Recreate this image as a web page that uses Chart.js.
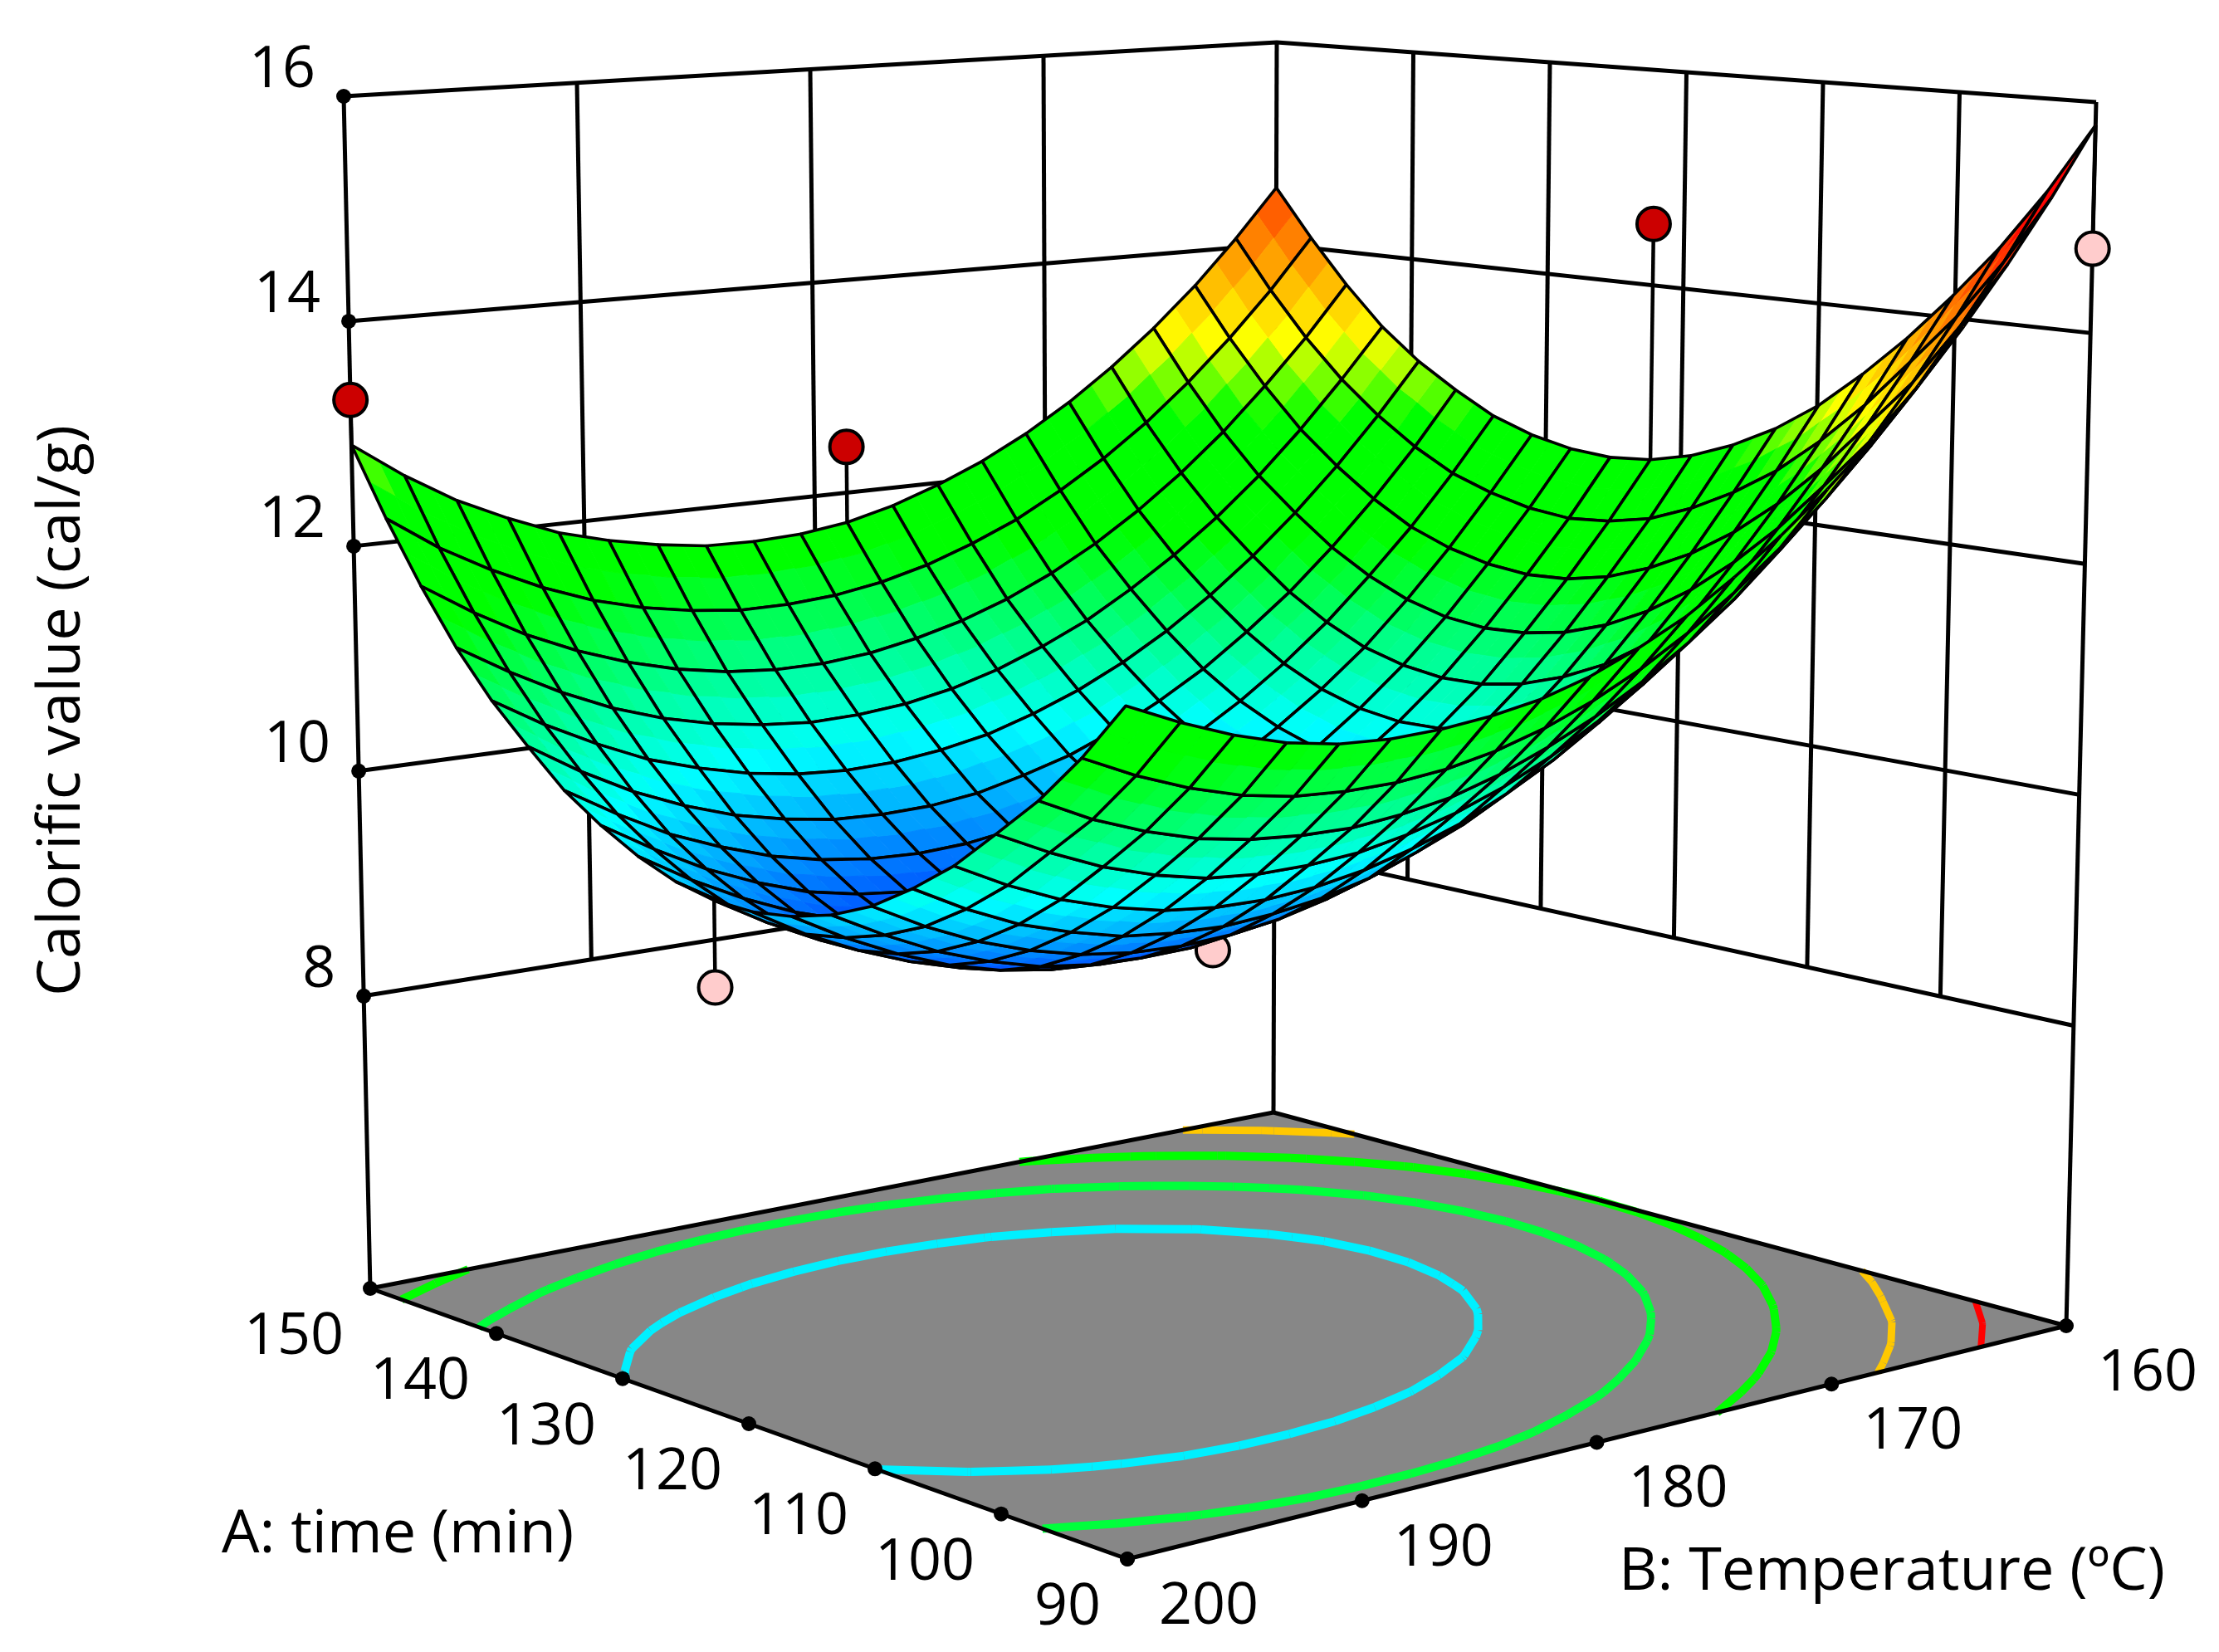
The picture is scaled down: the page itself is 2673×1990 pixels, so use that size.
<!DOCTYPE html>
<html>
<head>
<meta charset="utf-8">
<title>Calorific value surface</title>
<script src="https://cdn.jsdelivr.net/npm/chart.js@4"></script>
<style>
  html, body { margin: 0; padding: 0; background: #fff; }
  canvas { display: block; }
</style>
</head>
<body>
<canvas id="surfaceChart" width="2673" height="1990"></canvas>
<script>
const timeTicks = [150, 140, 130, 120, 110, 100, 90];
const tempTicks = [200, 190, 180, 170, 160];
const valueTicks = [16, 14, 12, 10, 8];
const floorValue = 5.4;
const topValue = 16;

// mesh nodes, calorific value per time (row) and temperature (column)
const meshTime = [90, 93, 96, 99, 102, 105, 108, 111, 114, 117, 120, 123, 126, 129, 132, 135, 138, 141, 144, 147, 150];
const meshTemp = [160, 162, 164, 166, 168, 170, 172, 174, 176, 178, 180, 182, 184, 186, 188, 190, 192, 194, 196, 198, 200];
const calorific = [
  [15.80, 15.22, 14.69, 14.20, 13.75, 13.35, 12.98, 12.65, 12.36, 12.10, 11.90, 11.73, 11.61, 11.54, 11.50, 11.49, 11.52, 11.60, 11.73, 11.90, 12.10],
  [15.19, 14.62, 14.11, 13.62, 13.19, 12.79, 12.43, 12.11, 11.83, 11.59, 11.39, 11.23, 11.11, 11.03, 10.99, 10.99, 11.02, 11.10, 11.23, 11.40, 11.61],
  [14.66, 14.10, 13.58, 13.11, 12.68, 12.29, 11.93, 11.62, 11.35, 11.12, 10.93, 10.77, 10.65, 10.58, 10.54, 10.55, 10.59, 10.67, 10.80, 10.97, 11.19],
  [14.20, 13.66, 13.15, 12.67, 12.23, 11.85, 11.51, 11.20, 10.94, 10.71, 10.52, 10.37, 10.26, 10.18, 10.15, 10.15, 10.19, 10.29, 10.43, 10.62, 10.84],
  [13.78, 13.23, 12.72, 12.25, 11.82, 11.44, 11.10, 10.80, 10.54, 10.32, 10.13, 9.99, 9.88, 9.81, 9.78, 9.79, 9.84, 9.94, 10.08, 10.27, 10.50],
  [13.41, 12.86, 12.35, 11.89, 11.46, 11.09, 10.75, 10.46, 10.20, 9.98, 9.81, 9.66, 9.56, 9.50, 9.47, 9.49, 9.54, 9.65, 9.79, 9.99, 10.23],
  [13.08, 12.54, 12.04, 11.58, 11.16, 10.79, 10.46, 10.17, 9.92, 9.71, 9.53, 9.40, 9.30, 9.24, 9.22, 9.24, 9.30, 9.41, 9.56, 9.76, 10.00],
  [12.82, 12.29, 11.79, 11.33, 10.91, 10.55, 10.23, 9.94, 9.70, 9.49, 9.32, 9.19, 9.10, 9.04, 9.03, 9.05, 9.11, 9.23, 9.39, 9.60, 9.84],
  [12.62, 12.09, 11.60, 11.14, 10.73, 10.37, 10.05, 9.77, 9.53, 9.33, 9.17, 9.04, 8.95, 8.90, 8.89, 8.92, 8.99, 9.11, 9.28, 9.49, 9.74],
  [12.47, 11.94, 11.46, 11.01, 10.60, 10.25, 9.94, 9.66, 9.43, 9.23, 9.07, 8.95, 8.87, 8.82, 8.82, 8.85, 8.92, 9.05, 9.22, 9.43, 9.69],
  [12.38, 11.86, 11.38, 10.94, 10.53, 10.19, 9.88, 9.61, 9.38, 9.18, 9.03, 8.91, 8.84, 8.80, 8.80, 8.84, 8.91, 9.05, 9.22, 9.44, 9.70],
  [12.35, 11.83, 11.36, 10.92, 10.52, 10.18, 9.88, 9.61, 9.39, 9.20, 9.05, 8.94, 8.87, 8.83, 8.84, 8.88, 8.96, 9.10, 9.28, 9.50, 9.77],
  [12.38, 11.87, 11.40, 10.96, 10.57, 10.23, 9.93, 9.67, 9.45, 9.27, 9.13, 9.02, 8.95, 8.92, 8.93, 8.98, 9.07, 9.21, 9.40, 9.63, 9.90],
  [12.46, 11.96, 11.49, 11.06, 10.67, 10.34, 10.05, 9.79, 9.58, 9.40, 9.26, 9.16, 9.10, 9.07, 9.09, 9.14, 9.23, 9.38, 9.57, 9.81, 10.08],
  [12.59, 12.09, 11.63, 11.22, 10.84, 10.51, 10.22, 9.97, 9.76, 9.59, 9.45, 9.36, 9.30, 9.28, 9.30, 9.36, 9.46, 9.61, 9.79, 10.03, 10.30],
  [12.79, 12.29, 11.84, 11.43, 11.06, 10.74, 10.45, 10.21, 10.00, 9.83, 9.71, 9.61, 9.56, 9.55, 9.57, 9.64, 9.74, 9.89, 10.08, 10.32, 10.60],
  [13.02, 12.54, 12.10, 11.70, 11.34, 11.02, 10.74, 10.50, 10.30, 10.14, 10.01, 9.93, 9.88, 9.87, 9.90, 9.97, 10.08, 10.22, 10.42, 10.65, 10.92],
  [13.31, 12.84, 12.40, 12.00, 11.65, 11.34, 11.07, 10.83, 10.64, 10.48, 10.36, 10.28, 10.24, 10.23, 10.27, 10.34, 10.45, 10.60, 10.80, 11.04, 11.31],
  [13.68, 13.20, 12.77, 12.37, 12.02, 11.71, 11.44, 11.21, 11.02, 10.87, 10.76, 10.68, 10.64, 10.64, 10.68, 10.76, 10.88, 11.04, 11.24, 11.49, 11.78],
  [14.10, 13.62, 13.19, 12.80, 12.45, 12.15, 11.89, 11.66, 11.48, 11.33, 11.22, 11.15, 11.12, 11.12, 11.17, 11.25, 11.37, 11.54, 11.75, 12.00, 12.31],
  [14.56, 14.09, 13.66, 13.28, 12.94, 12.64, 12.38, 12.16, 11.98, 11.83, 11.72, 11.66, 11.64, 11.65, 11.71, 11.80, 11.92, 12.10, 12.31, 12.58, 12.90]
];

// measured runs, above the surface (red) and below it (pink)
const aboveTime = [150, 150, 120];
const aboveTemp = [200, 180, 160];
const aboveValue = [13.3, 12.43, 14.57];
const aboveFit = [12.9, 11.72, 12.38];
const belowTime = [90, 120, 120];
const belowTemp = [160, 200, 180];
const belowValue = [14.73, 8.97, 8.54];
const belowFit = [15.8, 9.7, 9.03];

const contourLevels = [10, 11.2, 12.33, 13.55, 14.65];
const contourColors = ["#00f0ff", "#00ff3c", "#00ff00", "#ffc800", "#ff0000"];
const contourWidths = [10, 10, 10, 9, 8];

const scaleValues = [8.55, 10.05, 11.5, 12.5, 13.2, 15];
const scaleColors = [[0, 0, 255], [0, 255, 255], [0, 255, 0], [0, 255, 0], [255, 255, 0], [255, 0, 0]];

// where the box corners sit in the picture: floor then top
const boxFloor = { left: [446, 1552], back: [1534, 1340], right: [2489, 1597], front: [1358, 1878] };
const boxTop = { left: [414, 116], back: [1538, 51], right: [2525, 123], front: [1355, 252] };

function boxPoint(u, v, w) {
  const at = (k) => {
    const f = u * v * boxFloor.left[k] + u * (1 - v) * boxFloor.back[k] + (1 - u) * (1 - v) * boxFloor.right[k] + (1 - u) * v * boxFloor.front[k];
    const g = u * v * boxTop.left[k] + u * (1 - v) * boxTop.back[k] + (1 - u) * (1 - v) * boxTop.right[k] + (1 - u) * v * boxTop.front[k];
    return f + w * (g - f);
  };
  return { x: at(0), y: at(1) };
}

const heightShare = (z) => (z - floorValue) / (topValue - floorValue);

// axis ticks and walls are evenly spaced in the picture
function project(t, b, z) {
  return boxPoint((t - 90) / 60, (b - 160) / 40, heightShare(z));
}

// the surface, the runs and the contours foreshorten towards the back corner
function projectDeep(t, b, z) {
  const p = (150 - t) / 60;
  const q = (b - 160) / 40;
  return boxPoint(1 - (0.85 * p + 0.15 * p * p), 0.86 * q + 0.14 * q * q, heightShare(z));
}

function valueColor(z) {
  let i = 0;
  if (z <= scaleValues[0]) return "rgb(" + scaleColors[0].join(",") + ")";
  while (i < scaleValues.length - 2 && z > scaleValues[i + 1]) i++;
  const f = Math.min(1, (z - scaleValues[i]) / (scaleValues[i + 1] - scaleValues[i]));
  const c = scaleColors[i].map((v, k) => Math.round(v + f * (scaleColors[i + 1][k] - v)));
  return "rgb(" + c.join(",") + ")";
}

const datasets = [];

function addLine(points, color, width, extra) {
  datasets.push(Object.assign({
    data: points,
    showLine: true,
    borderColor: color,
    borderWidth: width,
    pointRadius: 0,
    borderJoinStyle: "round",
    clip: false,
  }, extra));
}

function addDots(points, radius, fill, borderWidth) {
  datasets.push({
    data: points,
    showLine: false,
    pointRadius: radius,
    pointBackgroundColor: fill,
    pointBorderColor: "#000",
    pointBorderWidth: borderWidth,
    clip: false,
  });
}

// walls
valueTicks.forEach((z) => {
  addLine([project(150, 200, z), project(150, 160, z), project(90, 160, z)], "#000", 5);
});
[190, 180, 170].forEach((b) => addLine([project(150, b, 8), project(150, b, 16)], "#000", 5));
[140, 130, 120, 110, 100].forEach((t) => addLine([project(t, 160, 8), project(t, 160, 16)], "#000", 5));
addLine([project(150, 160, floorValue), project(150, 160, 16)], "#000", 5);
addLine([project(90, 160, floorValue), project(90, 160, 16)], "#000", 5);
addLine([project(150, 200, floorValue), project(150, 200, 16)], "#000", 5);

// floor and the contours lying on it
const floorCorners = [[150, 200], [150, 160], [90, 160], [90, 200], [150, 200]].map((c) => project(c[0], c[1], floorValue));
addLine(floorCorners, "rgba(0,0,0,0)", 0, { solidFill: "#878787" });

// marching squares over the mesh, chained into ordered runs
function contourRuns(level) {
  const pieces = [];
  const cross = (i1, j1, i2, j2) => {
    const z1 = calorific[i1][j1];
    const z2 = calorific[i2][j2];
    if ((z1 < level) === (z2 < level)) return null;
    const f = (level - z1) / (z2 - z1);
    return {
      key: i1 + "," + j1 + "," + i2 + "," + j2,
      p: projectDeep(meshTime[i1] + f * (meshTime[i2] - meshTime[i1]), meshTemp[j1] + f * (meshTemp[j2] - meshTemp[j1]), floorValue),
    };
  };
  for (let i = 0; i < meshTime.length - 1; i++) {
    for (let j = 0; j < meshTemp.length - 1; j++) {
      const hits = [cross(i, j, i + 1, j), cross(i + 1, j + 1, i + 1, j), cross(i + 1, j + 1, i, j + 1), cross(i, j, i, j + 1)].filter(Boolean);
      if (hits.length === 2) pieces.push(hits);
    }
  }
  const touchCount = (key) => pieces.filter((o) => o[0].key === key || o[1].key === key).length;
  const runs = [];
  const used = new Set();
  const endsFirst = pieces.slice().sort((a, b) => {
    const free = (h) => (touchCount(h[0].key) === 1 || touchCount(h[1].key) === 1 ? 0 : 1);
    return free(a) - free(b);
  });
  endsFirst.forEach((start) => {
    const n0 = pieces.indexOf(start);
    if (used.has(n0)) return;
    used.add(n0);
    const [first, second] = touchCount(start[0].key) === 1 ? start : [start[1], start[0]];
    const run = [first.p, second.p];
    let key = second.key;
    for (;;) {
      const n = pieces.findIndex((h, m) => !used.has(m) && (h[0].key === key || h[1].key === key));
      if (n < 0) break;
      used.add(n);
      const out = pieces[n][0].key === key ? pieces[n][1] : pieces[n][0];
      run.push(out.p);
      key = out.key;
    }
    runs.push(run);
  });
  return runs;
}
contourLevels.forEach((level, k) => {
  contourRuns(level).forEach((run) => addLine(run, contourColors[k], contourWidths[k], { tension: 0.4 }));
});
addLine(floorCorners, "#000", 5);

// axis tick dots
addDots(timeTicks.map((t) => project(t, 200, floorValue)), 9, "#000", 0);
addDots(tempTicks.map((b) => project(90, b, floorValue)), 9, "#000", 0);
addDots(valueTicks.map((z) => project(150, 200, z)), 9, "#000", 0);

// runs below the surface go behind it
belowTime.forEach((t, k) => {
  addLine([projectDeep(t, belowTemp[k], belowFit[k]), projectDeep(t, belowTemp[k], belowValue[k])], "#000", 4.5);
});
addDots(belowTime.map((t, k) => projectDeep(t, belowTemp[k], belowValue[k])), 20, "#ffcccc", 4);

// surface, far corner first so nearer cells paint over
for (let i = meshTime.length - 2; i >= 0; i--) {
  for (let j = 0; j < meshTemp.length - 1; j++) {
    const corners = [[i, j], [i + 1, j], [i + 1, j + 1], [i, j + 1], [i, j]];
    const pts = corners.map((c) => projectDeep(meshTime[c[0]], meshTemp[c[1]], calorific[c[0]][c[1]]));
    addLine(pts, "#000", 3.6, { cellValues: corners.slice(0, 4).map((c) => calorific[c[0]][c[1]]) });
  }
}

// runs above the surface
aboveTime.forEach((t, k) => {
  addLine([projectDeep(t, aboveTemp[k], aboveFit[k]), projectDeep(t, aboveTemp[k], aboveValue[k])], "#000", 4.5);
});
addDots(aboveTime.map((t, k) => projectDeep(t, aboveTemp[k], aboveValue[k])), 20, "#cc0000", 4);

datasets.forEach((d, i) => (d.order = datasets.length - i));

function fillPoly(ctx, pts, color) {
  ctx.beginPath();
  pts.forEach((p, i) => (i ? ctx.lineTo(p.x, p.y) : ctx.moveTo(p.x, p.y)));
  ctx.closePath();
  ctx.fillStyle = color;
  ctx.strokeStyle = color;
  ctx.lineWidth = 1;
  ctx.fill();
  ctx.stroke();
}

const mid = (p, q) => ({ x: (p.x + q.x) / 2, y: (p.y + q.y) / 2 });

// line elements only stroke, so the cell and floor colours go in just before each line
const facePlugin = {
  id: "faces",
  beforeDatasetDraw(chart, args) {
    const ds = chart.data.datasets[args.index];
    const el = chart.getDatasetMeta(args.index).data;
    const ctx = chart.ctx;
    ctx.save();
    if (ds.solidFill) fillPoly(ctx, el.slice(0, 4), ds.solidFill);
    if (ds.cellValues) {
      const c = mid(el[0], el[2]);
      const avg = ds.cellValues.reduce((a, b) => a + b, 0) / 4;
      for (let k = 0; k < 4; k++) {
        const prev = el[(k + 3) % 4];
        const next = el[(k + 1) % 4];
        const tone = (ds.cellValues[k] + avg) / 2;
        fillPoly(ctx, [el[k], mid(el[k], next), c, mid(el[k], prev)], valueColor(tone));
      }
    }
    ctx.restore();
  },
};

const labelPlugin = {
  id: "labels",
  afterDraw(chart) {
    const { ctx, scales } = chart;
    const put = (p, dx, dy, text, align) => {
      ctx.textAlign = align;
      ctx.fillText(text, scales.x.getPixelForValue(p.x) + dx, scales.y.getPixelForValue(p.y) + dy);
    };
    ctx.save();
    ctx.font = '70px "Open Sans"';
    ctx.fillStyle = "#000";
    ctx.textBaseline = "middle";
    valueTicks.forEach((z) => put(project(150, 200, z), -34, -31, String(z), "right"));
    timeTicks.forEach((t) => put(project(t, 200, floorValue), -32, 59, String(t), "right"));
    tempTicks.forEach((b) => put(project(90, b, floorValue), 98, 58, String(b), "center"));
    ctx.font = '72px "Open Sans"';
    ctx.textAlign = "left";
    ctx.fillText("A: time (min)", 267, 1849);
    ctx.fillText("B: Temperature (ºC)", 1950, 1894);
    ctx.translate(75, 856);
    ctx.rotate(-Math.PI / 2);
    ctx.textAlign = "center";
    ctx.fillText("Calorific value (cal/g)", 0, 0);
    ctx.restore();
  },
};

new Chart(document.getElementById("surfaceChart"), {
  type: "scatter",
  data: { datasets },
  options: {
    responsive: false,
    animation: false,
    events: [],
    layout: { padding: 0, autoPadding: false },
    plugins: { legend: { display: false }, tooltip: { enabled: false } },
    elements: { line: { tension: 0 } },
    scales: {
      x: { type: "linear", min: 0, max: 2673, display: false },
      y: { type: "linear", min: 0, max: 1990, reverse: true, display: false },
    },
  },
  plugins: [facePlugin, labelPlugin],
});
</script>
</body>
</html>
